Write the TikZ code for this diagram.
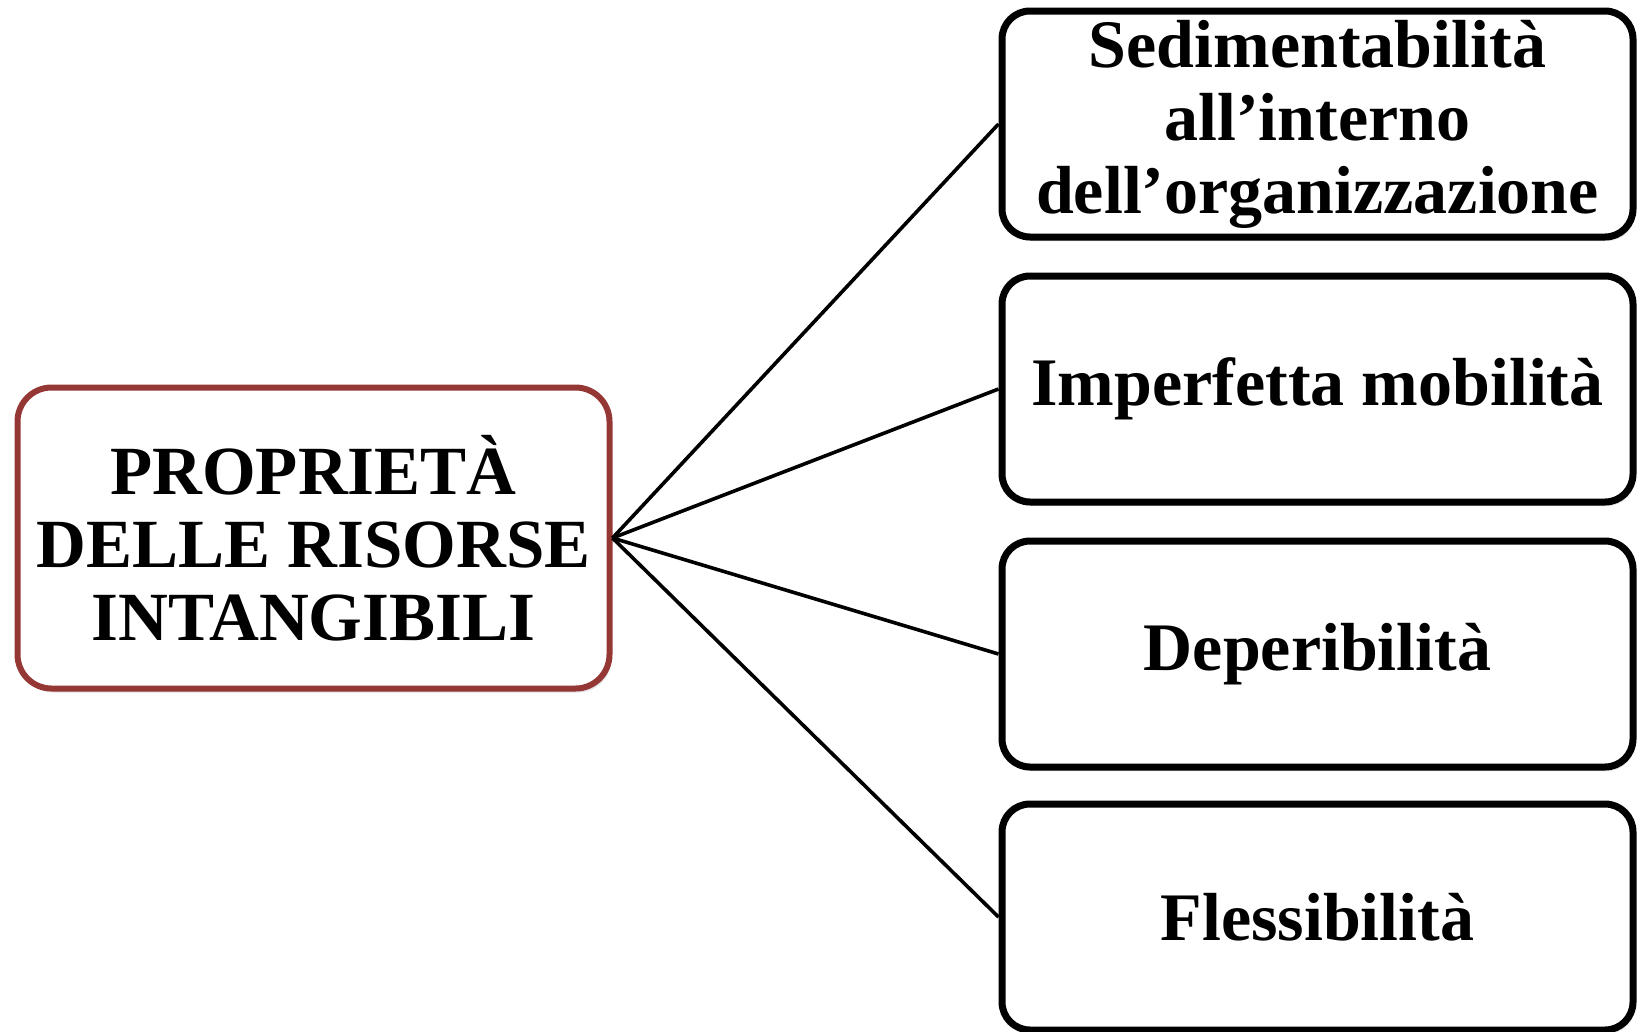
\documentclass[tikz,border=0pt]{standalone}
\usepackage{fontspec}
\setmainfont{Liberation Serif}
\usetikzlibrary{shadows}
\definecolor{boxred}{HTML}{953735}
\begin{document}
\begin{tikzpicture}[x=1pt,y=-1pt,
    box/.style={draw,fill=white,rounded corners=28pt,line width=7pt,
      minimum width=631pt,minimum height=226pt,inner sep=0pt,align=center,
      font=\bfseries\fontsize{68}{73}\selectfont,
      drop shadow={opacity=0.25,shadow xshift=2pt,shadow yshift=-4pt}},
    link/.style={line width=3.6pt}]
    \useasboundingbox (0,0) rectangle (1641,1031);

    \node[box,draw=boxred,line width=6pt,minimum width=592pt,minimum height=301pt,
      rounded corners=34pt,font=\bfseries\fontsize{69}{73}\selectfont]
      (0) at (313.5,538) {PROPRIETÀ\\DELLE RISORSE\\INTANGIBILI};

    \node[box] (1) at (1317.5,124) {Sedimentabilità\\all’interno\\dell’organizzazione};
    \node[box] (2) at (1317.5,389) {Imperfetta mobilità};
    \node[box] (3) at (1317.5,654) {Deperibilità};
    \node[box] (4) at (1317.5,917) {Flessibilità};

    \draw[link] (0.east)--(1.west);
    \draw[link] (0.east)--(2.west);
    \draw[link] (0.east)--(3.west);
    \draw[link] (0.east)--(4.west);
  \end{tikzpicture}
\end{document}
